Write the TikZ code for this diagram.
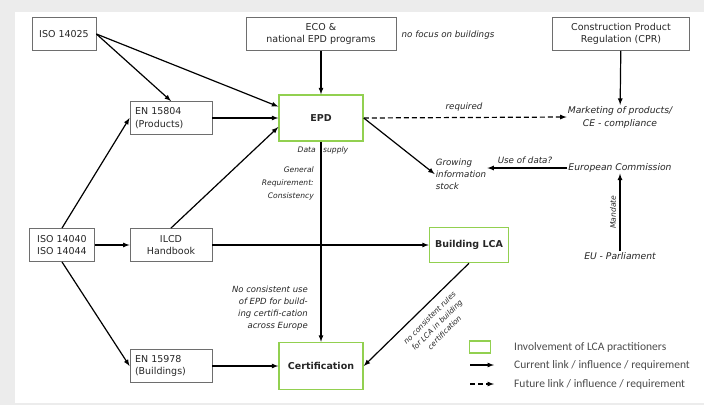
\documentclass[tikz,border=0pt]{standalone}
\usepackage{fontspec}
\setmainfont{DejaVu Sans}
\newfontfamily\legendfont{Carlito}
\usepackage{tikz}
\usetikzlibrary{positioning}

\definecolor{lcagreen}{RGB}{146,208,80}
\definecolor{boxgray}{RGB}{110,110,110}
\definecolor{framegray}{RGB}{236,236,236}

\begin{document}
\begin{tikzpicture}[x=1pt,y=-1pt,
    box/.style={draw=boxgray,line width=0.9pt,minimum height=33pt,inner sep=3pt,text=black!85,font=\fontsize{9.5}{12.5}\selectfont},
    lca/.style={draw=lcagreen,line width=1.5pt,minimum width=84pt,minimum height=46pt,text=black!85,font=\bfseries\fontsize{9.5}{12}\selectfont},
    note/.style={inner sep=1pt,text=black!85,font=\itshape\fontsize{8.7}{12}\selectfont},
    small/.style={inner sep=1pt,text=black!85,font=\itshape\fontsize{7.6}{13}\selectfont},
    legendtext/.style={inner sep=1pt,text=black!70,font=\legendfont\fontsize{11.5}{13}\selectfont},
    link/.style={-latex,line width=1.2pt},
    future/.style={link,dash pattern=on 5pt off 3pt}]
    \fill[framegray] (0,0) rectangle (704,405);
    \fill[white] (15,12) rectangle (704,403);
    \useasboundingbox (0,0) rectangle (704,405);

		\node[box,minimum width=64pt] (iso25) at (64,34) {ISO 14025};
		\node[box,minimum width=150pt,align=center] (eco) at (321,34) {ECO \&\\national EPD programs};
		\node[box,minimum width=137pt,align=center] (cpr) at (621,34) {Construction Product\\Regulation (CPR)};
		\node[lca] (epd) at (321,118) {EPD};
		\node[box,text width=72pt,inner sep=5pt,align=left] (en804) at (171,118) {EN 15804\\(Products)};
		\node[box,minimum width=65pt,align=left] (iso40) at (62,245) {ISO 14040\\ISO 14044};
		\node[box,minimum width=82pt,align=center] (ilcd) at (171,245) {ILCD\\Handbook};
		\node[lca,minimum width=79pt,minimum height=35pt] (blca) at (469,245) {Building LCA};
		\node[box,text width=72pt,inner sep=5pt,align=left] (en978) at (171,366) {EN 15978\\(Buildings)};
		\node[lca,minimum height=47pt] (cert) at (321,366) {Certification};

		\node[note] (nofocus) at (448,35) {no focus on buildings};
		\node[note,align=center,font=\itshape\fontsize{9.2}{13}\selectfont] (mkt) at (620,117) {Marketing of products/\\CE - compliance};
		\node[note,align=left] (stock) at (461,174) {Growing\\information\\stock};
		\node[note,font=\itshape\fontsize{9.2}{13}\selectfont] (ec) at (620,168) {European Commission};
		\node[note,font=\itshape\fontsize{9.2}{13}\selectfont] (eup) at (620,256) {EU - Parliament};
		\node[note] (req) at (464,107) {required};
		\node[note] (usedata) at (525,160) {Use of data?};
		\node[small,anchor=east] (data) at (317,150) {Data};
		\node[small,anchor=west] (supply) at (322,150) {supply};
		\node[small,align=right,anchor=east] (genreq) at (315,183) {General\\Requirement:\\Consistency};
		\node[note,align=right,anchor=east,font=\itshape\fontsize{8.5}{11.8}\selectfont] (nouse) at (309,308) {No consistent use\\of EPD for build-\\ing certifi-cation\\across Europe};
		\node[small,rotate=90] (mandate) at (613,212) {Mandate};
		\node[small,rotate=45,align=center,font=\itshape\fontsize{7.4}{10.5}\selectfont] (norules) at (437,325) {no consistent rules\\for LCA in building\\certification};

        \draw [link] (iso25.east) -- (en804.north);
		\draw [link] (iso25.east) -- (epd.165);
		\draw [link] (eco) -- (epd);
		\draw [link] (en804) -- (epd);
		\draw [link] (ilcd.north) -- (epd.192);
		\draw [link] (iso40.north) -- (en804.west);
		\draw [link] (iso40) -- (ilcd);
		\draw [link] (iso40.south) -- (en978.west);
		\draw [link] (ilcd) -- (blca);
		\draw [link] (en978) -- (cert);
		\draw [link] (epd) -- (cert);
		\draw [link] (blca.south) -- (cert.east);
		\draw [link] (epd.east) -- (stock.west);
		\draw [future] (epd.east) -- (mkt.west);
		\draw [link] (cpr) -- (mkt);
		\draw [link] (ec.west) -- (ec.west -| stock.east);
		\draw [link] (eup) -- (ec);

		\node[draw=lcagreen,line width=1.5pt,minimum width=21pt,minimum height=12pt,inner sep=0pt] (lgbox) at (480,347) {};
		\node[legendtext,anchor=west] (lgtxt1) at (513,347) {Involvement of LCA practitioners};
		\coordinate (lgcur1) at (470,365);
		\coordinate (lgcur2) at (494,365);
		\node[legendtext,anchor=west] (lgtxt2) at (513,365) {Current link / influence / requirement};
		\coordinate (lgfut1) at (470,384);
		\coordinate (lgfut2) at (494,384);
		\node[legendtext,anchor=west] (lgtxt3) at (513,384) {Future link / influence / requirement};
		\draw [link] (lgcur1) -- (lgcur2);
		\draw [future] (lgfut1) -- (lgfut2);
    \end{tikzpicture}
\end{document}
